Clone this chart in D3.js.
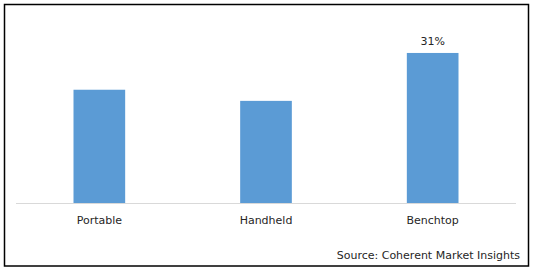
<!DOCTYPE html>
<html lang="en">
<head>
<meta charset="UTF-8">
<title>chart</title>
<script src="https://cdn.jsdelivr.net/npm/d3@7"></script>
<style>
  body { margin: 0; background: #fff; }
  text { font-family: "DejaVu Sans", Verdana, sans-serif; fill: #262626; }
</style>
</head>
<body>
<script>
    var categories = ["Portable", "Handheld", "Benchtop"]
    var shares = [23.4, 21.1, 31]
    var labels = ["", "", "31%"]

    var width = 535, height = 270
    var svg = d3.select("body").append("svg")
        .attr("width", width)
        .attr("height", height)

    // outer frame
    svg.append("rect")
        .attr("x", 4.5).attr("y", 4.5)
        .attr("width", 524).attr("height", 261.5)
        .attr("fill", "none")
        .attr("stroke", "#000")
        .attr("stroke-width", 1.5)

    var x = d3.scaleBand()
        .domain(categories)
        .range([16, 516])
        .paddingInner(0.69)
        .paddingOuter(0.345)

    var y = d3.scaleLinear()
        .domain([0, 35])
        .range([203, 33.6])

    svg.selectAll(".bar")
        .data(categories)
        .enter().append("rect")
        .attr("class", "bar")
        .attr("x", function(d) { return x(d) })
        .attr("width", x.bandwidth())
        .attr("y", function(d, i) { return y(shares[i]) })
        .attr("height", function(d, i) { return y(0) - y(shares[i]) })
        .attr("fill", "#5b9bd5")

    // x axis
    var xAxis = svg.append("g")
        .attr("transform", "translate(0," + y(0) + ")")
        .call(d3.axisBottom(x).tickSize(0).tickPadding(13))
    xAxis.select(".domain").attr("stroke", "#d9d9d9").attr("d", "M16,0.5H516")
    xAxis.selectAll("text")
        .style("font-family", "DejaVu Sans, Verdana, sans-serif")
        .style("font-size", "11px")
        .attr("fill", "#262626")

    // value labels
    svg.selectAll(".lbl")
        .data(categories)
        .enter().append("text")
        .attr("class", "lbl")
        .attr("x", function(d) { return x(d) + x.bandwidth() / 2 })
        .attr("y", function(d, i) { return y(shares[i]) - 8 })
        .attr("text-anchor", "middle")
        .style("font-size", "11px")
        .text(function(d, i) { return labels[i] })

    svg.append("text")
        .attr("x", 520).attr("y", 259)
        .attr("text-anchor", "end")
        .style("font-size", "11px")
        .text("Source: Coherent Market Insights")
</script>
</body>
</html>
